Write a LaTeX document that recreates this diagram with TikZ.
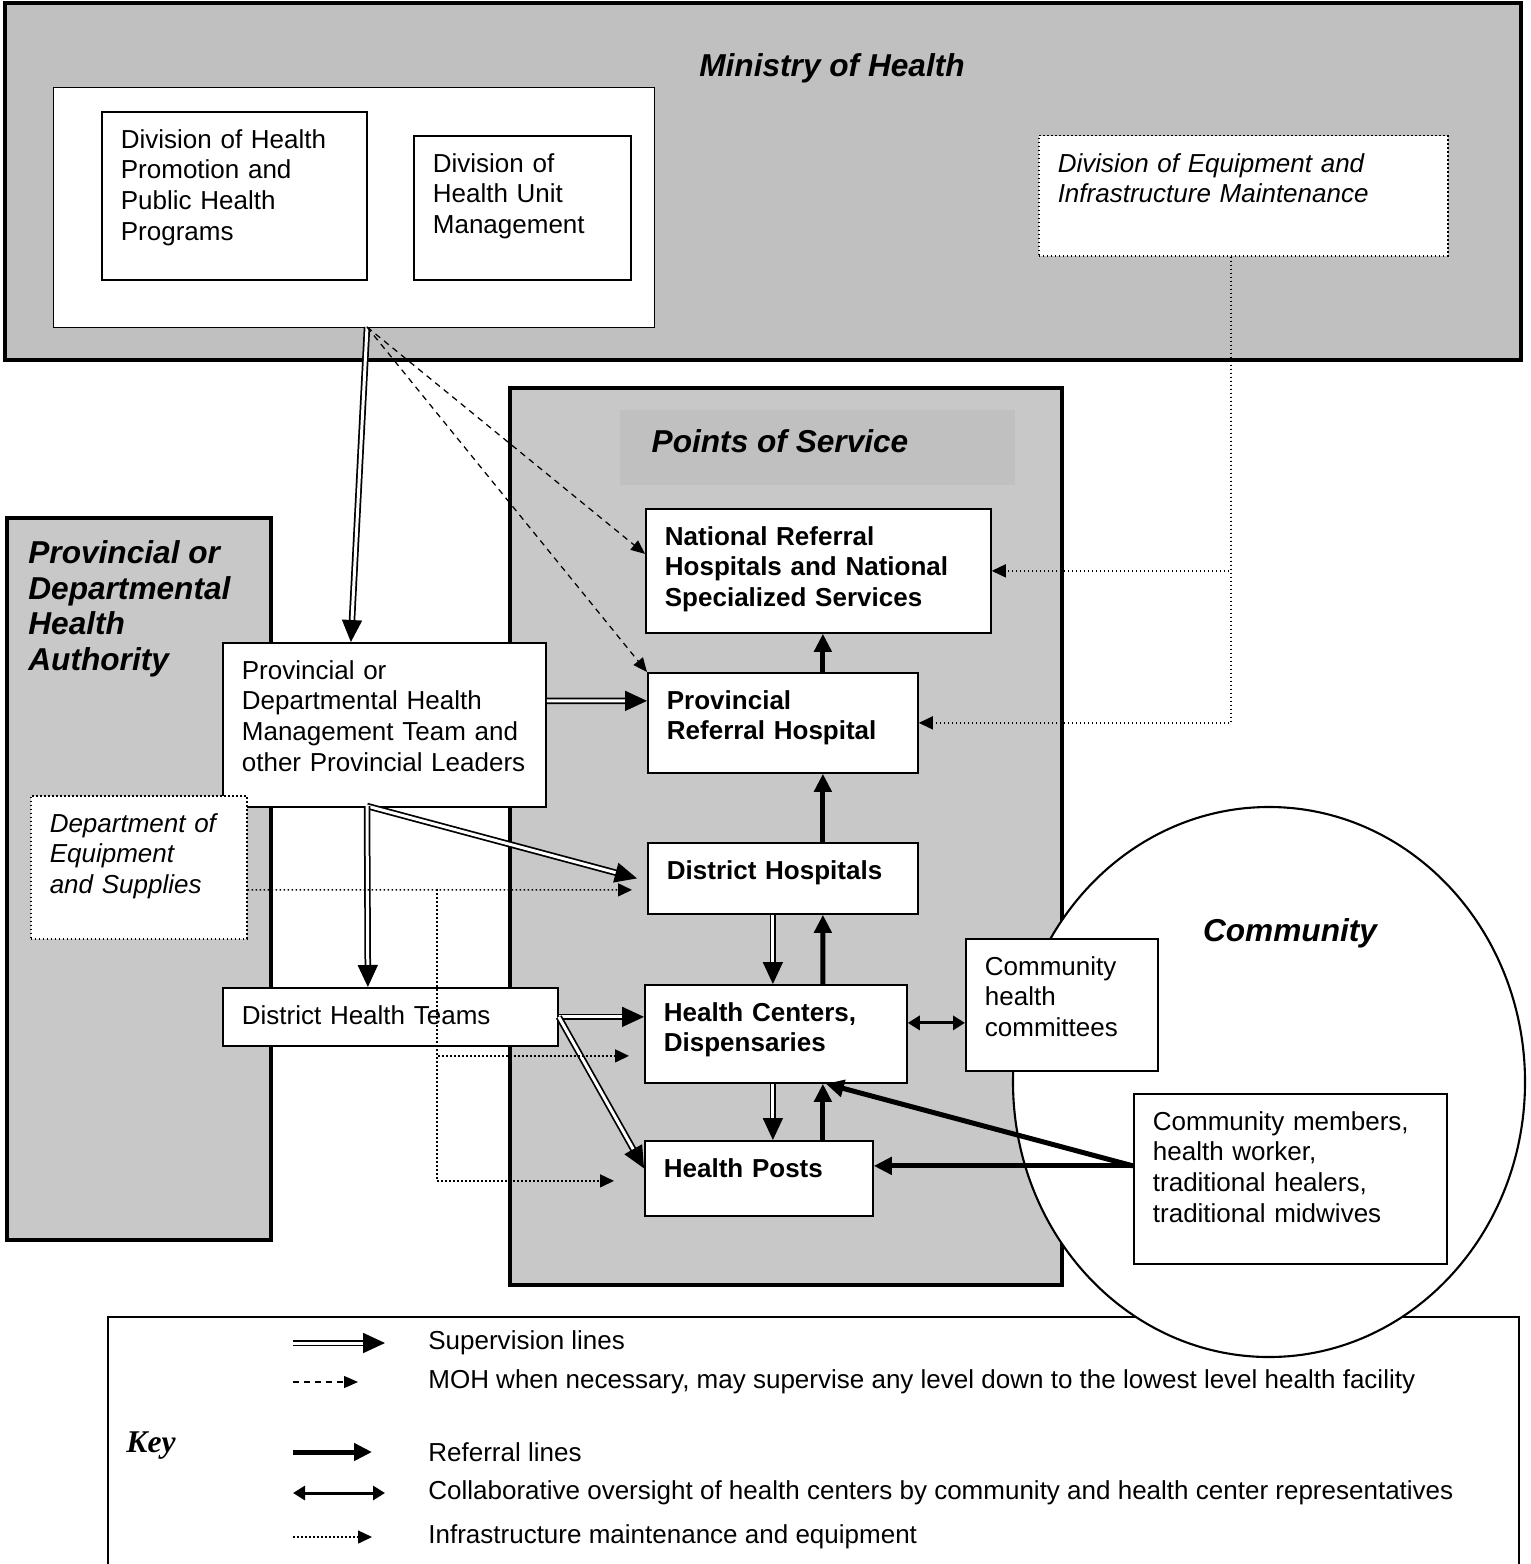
\documentclass[tikz,border=0pt]{standalone}
\usepackage{fontspec}
\setmainfont{Liberation Sans}
\newfontfamily\keyfont{Liberation Serif}
\usetikzlibrary{arrows.meta}

\definecolor{mohgray}{HTML}{C0C0C0}
\definecolor{texgray}{HTML}{C8C8C8}

\begin{document}
\begin{tikzpicture}[x=0.2mm, y=-0.2mm,
    region/.style={draw, line width=2.2pt},
    box/.style={draw, fill=white, line width=1pt, align=left, anchor=north west,
        inner xsep=3.8mm, inner ysep=0pt, text height=7.3mm, font=\fontsize{14.8}{17.4}\selectfont},
    hospbox/.style={box, font=\fontsize{14.8}{17.4}\selectfont\bfseries},
    dotbox/.style={box, line width=0.3mm, dash pattern=on 0.3mm off 0.5mm,
        font=\fontsize{14.8}{17.4}\selectfont\itshape},
    regiontitle/.style={inner sep=0pt, align=left, font=\fontsize{18}{20.4}\selectfont\bfseries\itshape},
    keytext/.style={inner sep=0pt, anchor=west, font=\fontsize{14.8}{17.4}\selectfont},
    supline/.style={double, double distance=0.6mm, line width=0.35mm, -{Triangle[length=4.4mm,width=4mm]}},
    mohline/.style={dash pattern=on 1.2mm off 1mm, line width=0.25mm, -{Triangle[length=2.8mm,width=2.4mm]}},
    refline/.style={line width=1mm, -{Triangle[length=3.6mm,width=3.4mm]}},
    colline/.style={line width=0.6mm, {Triangle[length=2.4mm,width=2.8mm]}-{Triangle[length=2.4mm,width=2.8mm]}},
    infline/.style={line width=0.3mm, dash pattern=on 0.3mm off 0.5mm, -{Triangle[length=2.8mm,width=2.6mm]}},
]
\useasboundingbox (0,0) rectangle (1530,1564);

% Ministry of Health
\draw[region, fill=mohgray] (5,3) rectangle (1521,360);
\node[regiontitle] (mohtitle) at (832,68) {Ministry of Health};
\node[box, line width=0.5pt, minimum width=120.2mm, minimum height=48mm] (mohdiv) at (53,87) {};
\node[box, text width=45.4mm, text depth=26.3mm] (divpromo) at (101,111)
    {Division of Health\\Promotion and\\Public Health\\Programs};
\node[box, text width=35.8mm, text depth=21.5mm] (divunit) at (413,135)
    {Division of\\Health Unit\\Management};
\node[dotbox, text width=74.2mm, text depth=16.7mm] (divequip) at (1038,135)
    {Division of Equipment and\\Infrastructure Maintenance};

% Provincial authority
\draw[region, fill=texgray] (7,518) rectangle (271,1240);
\node[regiontitle, anchor=north west] (provtitle) at (28,540)
    {Provincial or\\Departmental\\Health\\Authority};

% Points of service
\draw[region, fill=texgray] (510,388) rectangle (1062,1285);
\fill[mohgray] (620,410) rectangle (1015,485);
\node[regiontitle] (postitle) at (780,441) {Points of Service};

% Key
\draw[line width=1pt] (108,1564) -- (108,1317) -- (1519,1317) -- (1519,1564);
\node[font=\fontsize{18}{20}\selectfont\keyfont\bfseries\itshape] (keytitle) at (151,1446) {Key};
\node[keytext] (keysup) at (428,1343) {Supervision lines};
\node[keytext] (keymoh) at (428,1382) {MOH when necessary, may supervise any level down to the lowest level health facility};
\node[keytext] (keyref) at (428,1452) {Referral lines};
\node[keytext] (keycol) at (428,1493) {Collaborative oversight of health centers by community and health center representatives};
\node[keytext] (keyinf) at (428,1537) {Infrastructure maintenance and equipment};
\draw[supline] (keysup.west) ++(-135,0) -- ++(92,0);
\draw[mohline] (keymoh.west) ++(-135,0) -- ++(65,0);
\draw[refline] (keyref.west) ++(-135,0) -- ++(79,0);
\draw[colline] (keycol.west) ++(-135,0) -- ++(92,0);
\draw[infline] (keyinf.west) ++(-135,0) -- ++(79,0);

% Community
\draw[line width=1.2pt, fill=white] (1269,1082) ellipse [x radius=51.2mm, y radius=55mm];
\node[regiontitle] (comtitle) at (1290,933) {Community};

% boxes
\node[box, text width=57mm, text depth=25.5mm] (provmgmt) at (222,642)
    {Provincial or\\Departmental Health\\Management Team and\\other Provincial Leaders};
\node[dotbox, text width=35.6mm, text depth=21.3mm] (deptequip) at (30,795)
    {Department of\\Equipment\\and Supplies};
\node[box, text width=59.4mm, text depth=4.3mm] (dht) at (222,987) {District Health Teams};
\node[hospbox, text width=61.4mm, text depth=17.5mm] (natref) at (645,508)
    {National Referral\\Hospitals and National\\Specialized Services};
\node[hospbox, text width=46.4mm, text depth=12.7mm] (provref) at (647,672)
    {Provincial\\Referral Hospital};
\node[hospbox, text width=46.4mm, text depth=6.9mm] (disthosp) at (647,842) {District Hospitals};
\node[hospbox, text width=44.8mm, text depth=12.3mm] (hc) at (644,984)
    {Health Centers,\\Dispensaries};
\node[hospbox, text width=38mm, text depth=7.7mm] (hp) at (644,1140) {Health Posts};
\node[box, text width=30.8mm, text depth=19.1mm] (chc) at (965,938)
    {Community\\health\\committees};
\node[box, text width=55mm, text depth=26.7mm] (cm) at (1133,1093)
    {Community members,\\health worker,\\traditional healers,\\traditional midwives};

\coordinate (mohout) at (367,327);
\coordinate (provout) at (367,806);
\coordinate (split) at (437,889);

% supervision
\draw[supline] (mohout) -- ([xshift=-6.7mm]provmgmt.north);
\draw[mohline] (mohout) -- ([yshift=3.4mm]natref.west);
\draw[mohline] (mohout) -- (provref.north west);
\draw[supline] ([yshift=4.8mm]provmgmt.east) -- ([yshift=4.4mm]provref.west);
\draw[supline] (provout) -- ([xshift=-2mm]disthosp.west);
\draw[supline] (provout) -- ([xshift=-4.5mm]dht.north);
\draw[supline] (dht.east) -- (dht.east -| hc.west);
\draw[supline] (dht.east) -- ([yshift=2mm]hp.west);
\draw[supline] ([xshift=-2mm]disthosp.south) -- ([xshift=-2mm]disthosp.south |- hc.north);
\draw[supline] ([xshift=-0.6mm]hc.south) -- ([xshift=-0.6mm]hc.south |- hp.north);

% referral
\draw[refline] ([xshift=8mm]disthosp.north) -- ([xshift=8mm]provref.south);
\draw[refline] ([xshift=8mm]provref.north) -- ([xshift=8mm]provref.north |- natref.south);
\draw[refline] ([xshift=9.4mm]hc.north) -- ([xshift=8mm]disthosp.south);
\draw[refline] ([xshift=12.8mm]hp.north) -- ([xshift=12.8mm]hp.north |- hc.south);
\draw[refline] ([yshift=2.6mm]cm.west) -- ([yshift=2.6mm]cm.west -| hp.east);
\draw[refline] ([yshift=2.6mm]cm.west) -- ([xshift=10mm]hc.south);
\draw[colline] ([yshift=2.2mm]hc.east) -- ([yshift=2.2mm]hc.east -| chc.west);

% infrastructure
\draw[infline] ([xshift=-2.5mm]divequip.south) |- (natref.east);
\draw[infline] ([xshift=-2.5mm]divequip.south) |- (provref.east);
\draw[infline] ([yshift=-4.5mm]deptequip.east) -- ([xshift=-3mm,yshift=-2.3mm]disthosp.west);
\draw[infline] (split) |- ([xshift=-3mm,yshift=-4.4mm]hc.west);
\draw[infline] (split) |- ([xshift=-6mm,yshift=-0.5mm]hp.west);

\end{tikzpicture}
\end{document}
